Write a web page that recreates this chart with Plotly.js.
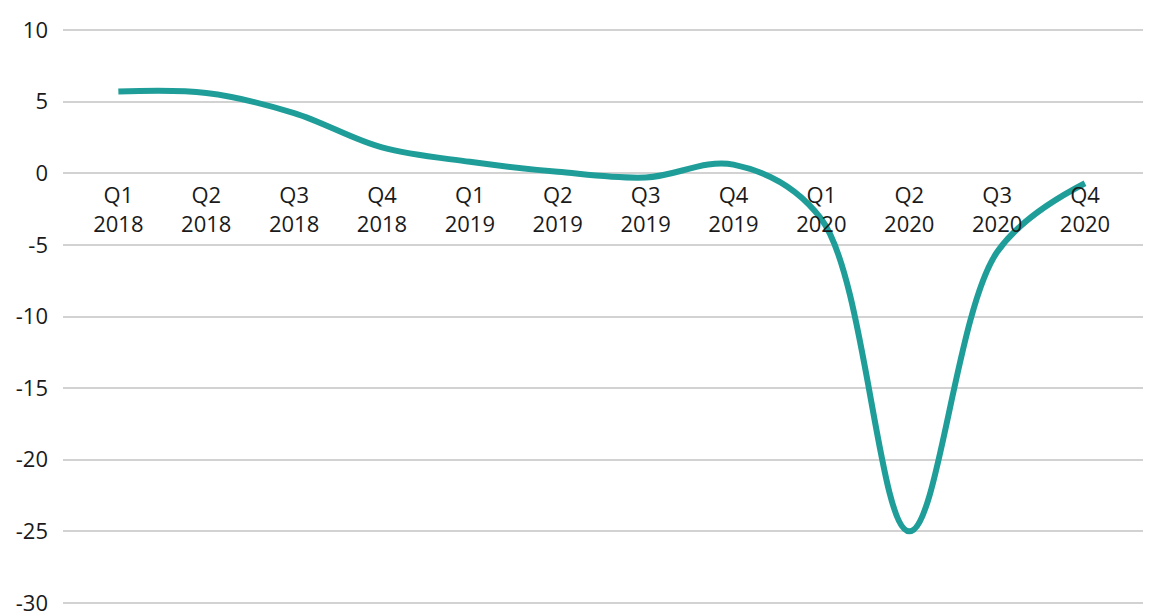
<!DOCTYPE html>
<html>
<head>
<meta charset="utf-8">
<script src="https://cdn.plot.ly/plotly-3.0.1.min.js"></script>
<style>
  html, body { margin: 0; padding: 0; background: #fff; }
  #plot { width: 1157px; height: 616px; }
</style>
</head>
<body>
<div id="plot"></div>
<script>
// quarterly growth
let quarters = ["Q1", "Q2", "Q3", "Q4", "Q1", "Q2", "Q3", "Q4", "Q1", "Q2", "Q3", "Q4"];
let years = ["2018", "2018", "2018", "2018", "2019", "2019", "2019", "2019", "2020", "2020", "2020", "2020"];
let growth = [5.7, 5.6, 4.2, 1.8, 0.8, 0.1, -0.3, 0.6, -3.2, -25.0, -5.5, -0.7];
let yTicks = [10, 5, 0, -5, -10, -15, -20, -25, -30];
let yTickText = ["10", "5", "0", "-5", "-10", "-15", "-20", "-25", "-30"];

let xIdx = growth.map((v, i) => i);
let labels = quarters.map((q, i) => q + "<br>" + years[i]);

let font = "Open Sans, Lato, sans-serif";

Plotly.newPlot(
  "plot",
  [
    {
      x: xIdx,
      y: growth,
      mode: "lines",
      line: { color: "#1f9e99", width: 6, shape: "spline", smoothing: 1 },
      hoverinfo: "skip"
    }
  ],
  {
    width: 1157,
    height: 616,
    margin: { l: 63, r: 14, t: 28, b: 11 },
    showlegend: false,
    paper_bgcolor: "#fff",
    plot_bgcolor: "#fff",
    font: { family: font, color: "#1a1a1a", size: 22 },
    xaxis: {
      range: [-0.63, 11.66],
      tickvals: xIdx,
      ticktext: labels,
      showgrid: false,
      zeroline: false,
      showline: false,
      anchor: "free",
      position: 0.7504,
      ticks: "",
      ticklabelstandoff: 8,
      tickfont: { size: 22, family: font, color: "#1a1a1a" }
    },
    yaxis: {
      range: [-30.14, 10.14],
      tickvals: yTicks,
      ticktext: yTickText,
      showgrid: true,
      gridcolor: "#d2d2d2",
      gridwidth: 2,
      zeroline: false,
      showline: false,
      ticks: "",
      ticklabelstandoff: 14,
      ticklabeloverflow: "allow",
      tickfont: { size: 22, family: font, color: "#1a1a1a" }
    }
  },
  { displayModeBar: false }
);
</script>
</body>
</html>
